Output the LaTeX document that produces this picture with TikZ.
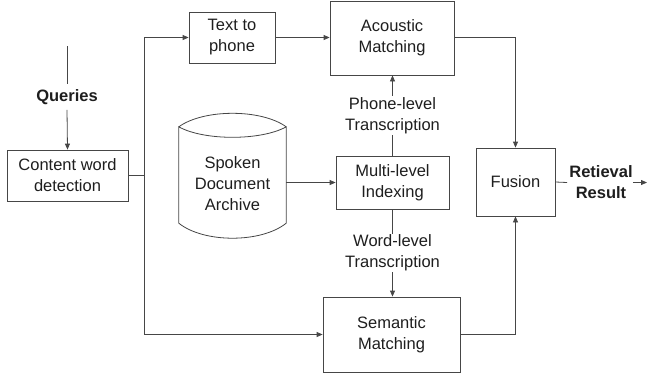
\documentclass[tikz,border=0pt]{standalone}
\usepackage{fontspec}
\setmainfont{Liberation Sans}
\usetikzlibrary{arrows.meta,calc}
\definecolor{ln}{RGB}{70,70,70}
\definecolor{tx}{RGB}{30,30,30}
\begin{document}
\begin{tikzpicture}[x=1pt,y=-1pt,
  every node/.style={text=tx,font=\fontsize{16.5}{21}\selectfont,align=center,inner sep=0pt},
  blk/.style={draw=ln,line width=0.8pt,rectangle},
  con/.style={draw=ln,line width=0.8pt},
  arr/.style={con,-{Triangle[length=6pt,width=5pt]}},
  lbl/.style={fill=white,inner sep=1pt}]
\useasboundingbox (0,0) rectangle (649,376);
% blocks
\node[blk,minimum width=86pt,minimum height=51pt] (ttp) at (232,37.5) {Text to\\phone};
\node[blk,minimum width=124pt,minimum height=74pt] (ac) at (392,38) {Acoustic\\Matching};
\node[blk,minimum width=121pt,minimum height=51pt] (cwd) at (67.5,175.5) {Content word\\detection};
\node[font=\fontsize{16.5}{21}\selectfont\bfseries,inner ysep=5pt] (q) at (67,97) {Queries};
\coordinate (qtop) at (67,46);
\node[minimum width=107pt,minimum height=96pt] (cyl) at (232.5,175) {};
\node (cyltxt) at (232.5,184) {Spoken\\Document\\Archive};
\node[blk,minimum width=113pt,minimum height=53pt] (mli) at (392.5,182.5) {Multi-level\\Indexing};
\node[blk,minimum width=79pt,minimum height=68pt] (fus) at (515.5,182) {Fusion};
\node[blk,minimum width=137pt,minimum height=75pt] (sem) at (391.5,334.5) {Semantic\\Matching};
\node[font=\fontsize{16.5}{21}\selectfont\bfseries] (res) at (601,182.5) {Retieval\\Result};
\coordinate (out) at (647,182.5);
% cylinder outline
\draw[con] (cyl.north west) .. controls ($(cyl.north west)+(25,-18)$) and ($(cyl.north east)+(-25,-18)$) .. (cyl.north east)
  .. controls ($(cyl.north east)+(-25,14)$) and ($(cyl.north west)+(25,14)$) .. (cyl.north west)
  -- (cyl.south west)
  .. controls ($(cyl.south west)+(25,20)$) and ($(cyl.south east)+(-25,20)$) .. (cyl.south east)
  -- (cyl.north east);
% connectors
\coordinate (j) at (144,175.5);
\draw[con] (qtop) -- (q.north);
\draw[arr] (q.south) -- (cwd.north);
\draw[con] (cwd.east) -- (j);
\draw[arr] (j) |- (ttp.west);
\draw[arr] (j) |- (sem.west);
\draw[arr] (ttp.east) -- (ttp.east -| ac.west);
\draw[arr] (cyl.east |- mli.west) -- (mli.west);
\draw[arr] (mli.north) -- node[lbl] (plt) {Phone-level\\Transcription} (mli.north |- ac.south);
\draw[arr] (mli.south) -- node[lbl] (wlt) {Word-level\\Transcription} (mli.south |- sem.north);
\draw[arr] (ac.east |- ttp.east) -| (fus.north);
\draw[arr] (sem.east) -| (fus.south);
\draw[con] (fus.east) -- ($(res.west)+(-2,0)$);
\draw[arr] (res.east) -- (out);
\end{tikzpicture}
\end{document}
